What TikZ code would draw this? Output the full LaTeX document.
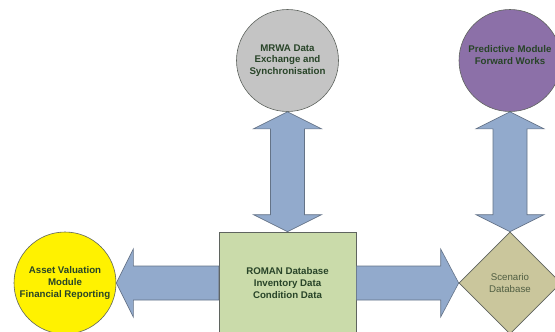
\documentclass[tikz,border=0pt]{standalone}
\usepackage{fontspec}
\setmainfont{Liberation Sans}
\usetikzlibrary{shapes,calc,positioning}

\definecolor{txtgreen}{RGB}{40,68,40}
\definecolor{scentxt}{RGB}{80,94,66}
\definecolor{linegray}{RGB}{95,100,95}
\definecolor{arrowline}{RGB}{100,115,135}
\definecolor{arrowblue}{RGB}{146,170,204}
\definecolor{mrwagray}{RGB}{196,196,196}
\definecolor{predpurple}{RGB}{140,112,168}
\definecolor{romangreen}{RGB}{202,219,170}
\definecolor{scentan}{RGB}{202,198,156}

\begin{document}
\begin{tikzpicture}[x=1pt, y=-1pt, node distance=222.5pt,
      every node/.style={font=\fontsize{9.7}{11.7}\selectfont\bfseries, text=txtgreen, align=center},
      module/.style={circle, draw=linegray, line width=0.6pt, inner sep=0pt, minimum size=102pt},
      fat/.style={draw=arrowline, fill=arrowblue, line width=0.6pt}]

      \useasboundingbox (0,0) rectangle (555,332);

      \node[rectangle, draw=linegray, line width=0.6pt, fill=romangreen,
            minimum width=137pt, minimum height=102pt] (roman) at (287.5,283)
            {ROMAN Database\\Inventory Data\\Condition Data};

      \node[module, fill=mrwagray, above of=roman] (mrwa) {MRWA Data\\Exchange and\\Synchronisation};
      \node[module, fill=yellow, left of=roman] (asset) {Asset Valuation\\Module\\Financial Reporting};
      \node[diamond, draw=linegray, line width=0.6pt, fill=scentan, inner sep=0pt, aspect=1,
            minimum width=102pt, minimum height=102pt, right of=roman,
            font=\fontsize{9.7}{11.7}\selectfont, text=scentxt] (scen) {Scenario\\Database};
      \node[module, fill=predpurple, above of=scen] (pred) {Predictive Module\\Forward Works\\ }; % ugly hack, lifts the text

      % fat double arrows
      \draw[fat] (mrwa.south) -- ++(34,17) -- ++(-17,0) -- ($(roman.north)+(17,-17)$) -- ++(17,0)
            -- (roman.north) -- ++(-34,-17) -- ++(17,0) -- ($(mrwa.south)+(-17,17)$) -- ++(-17,0) -- cycle;
      \draw[fat] (pred.south) -- ++(34,17) -- ++(-17,0) -- ($(scen.north)+(17,-17)$) -- ++(17,0)
            -- (scen.north) -- ++(-34,-17) -- ++(17,0) -- ($(pred.south)+(-17,17)$) -- ++(-17,0) -- cycle;

      % fat single arrows
      \draw[fat] (asset.east) -- ++(17,-34) -- ++(0,17) -- ($(roman.west)+(0,-17)$) -- ++(0,34)
            -- ($(asset.east)+(17,17)$) -- ++(0,17) -- cycle;
      \draw[fat] (scen.west) -- ++(-18,-34) -- ++(0,17) -- ($(roman.east)+(0,-17)$) -- ++(0,34)
            -- ($(scen.west)+(-18,17)$) -- ++(0,17) -- cycle;

\end{tikzpicture}
\end{document}
